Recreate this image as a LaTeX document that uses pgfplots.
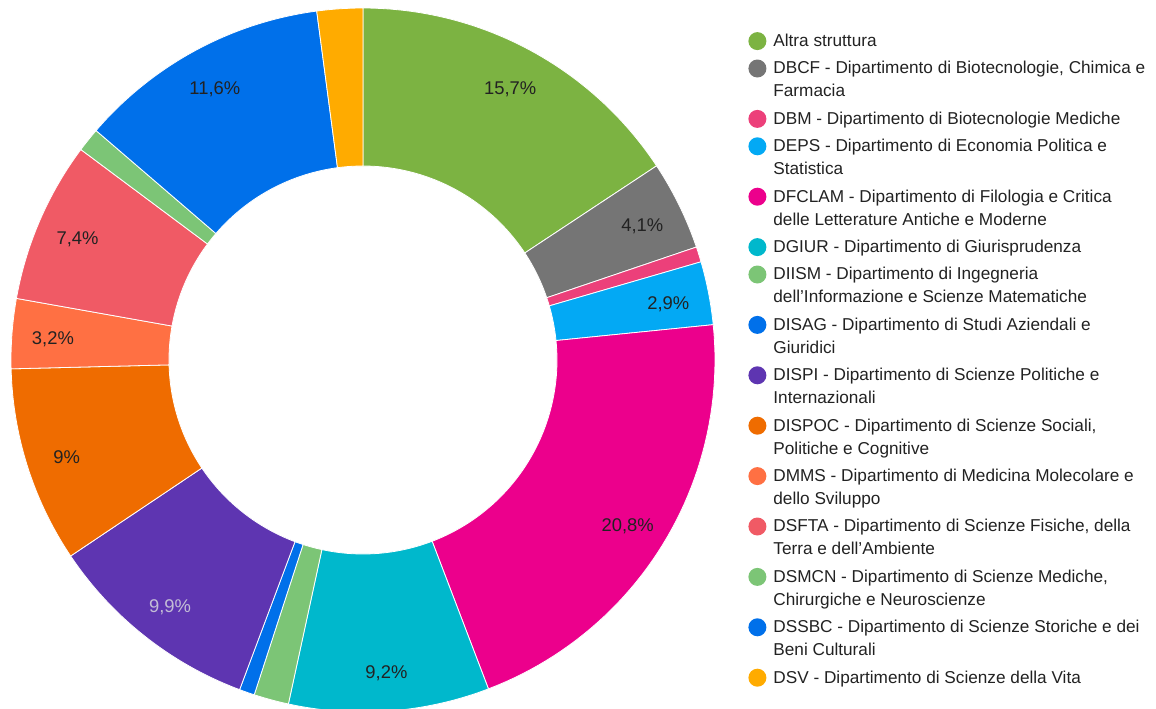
\documentclass[border=0pt]{standalone}
\usepackage{fontspec}
\setmainfont{Liberation Sans}
\usepackage{pgfplots}
\usepackage{pgfplotstable}
\pgfplotsset{compat=1.18}

\definecolor{cAltra}{HTML}{7CB342}
\definecolor{cDBCF}{HTML}{757575}
\definecolor{cDBM}{HTML}{EC407A}
\definecolor{cDEPS}{HTML}{03A9F4}
\definecolor{cDFCLAM}{HTML}{EC008C}
\definecolor{cDGIUR}{HTML}{00B8CC}
\definecolor{cDIISM}{HTML}{7CC576}
\definecolor{cDISAG}{HTML}{0070EA}
\definecolor{cDISPI}{HTML}{5E35B1}
\definecolor{cDISPOC}{HTML}{EF6C00}
\definecolor{cDMMS}{HTML}{FF7043}
\definecolor{cDSFTA}{HTML}{F05A65}
\definecolor{cDSMCN}{HTML}{7CC576}
\definecolor{cDSSBC}{HTML}{0070EA}
\definecolor{cDSV}{HTML}{FFAB00}
\definecolor{labgray}{HTML}{C3BDD6}
\definecolor{txt}{HTML}{222222}

% two-line legend entry, baseline on the first line
\newcommand\two[2]{\vtop{\hbox{\strut #1}\hbox{\strut #2}}}

% share of each structure, in percent, clockwise from the top
\pgfplotstableread{
pct  col      lab
15.7 cAltra   {15,7\%}
4.1  cDBCF    {4,1\%}
0.7  cDBM     {}
2.9  cDEPS    {2,9\%}
20.8 cDFCLAM  {20,8\%}
9.2  cDGIUR   {9,2\%}
1.6  cDIISM   {}
0.7  cDISAG   {}
9.9  cDISPI   {{\color{labgray}9,9\%}}
9.0  cDISPOC  {9\%}
3.2  cDMMS    {3,2\%}
7.4  cDSFTA   {7,4\%}
1.1  cDSMCN   {}
11.6 cDSSBC   {11,6\%}
2.1  cDSV     {}
}\slices
\pgfplotstablecreatecol[create col/expr accum={\pgfmathaccuma + \thisrow{pct}}{0}]{cum}\slices
\pgfplotstablecreatecol[create col/expr={\thisrow{cum}-\thisrow{pct}}]{start}\slices
\pgfplotstablegetrowsof{\slices}
\pgfmathtruncatemacro\lastrow{\pgfplotsretval-1}

\begin{document}
\begin{tikzpicture}
\begin{axis}[
    width=578pt, height=354pt, scale only axis,
    xmin=-363, xmax=793, ymin=-348, ymax=360,
    axis line style={draw=none}, xtick=\empty, ytick=\empty,
    samples at={0,1,...,50,50.001,51,52,...,100},
    legend entries={
      {Altra struttura},
      {\two{DBCF - Dipartimento di Biotecnologie, Chimica e}{Farmacia}},
      {DBM - Dipartimento di Biotecnologie Mediche},
      {\two{DEPS - Dipartimento di Economia Politica e}{Statistica}},
      {\two{DFCLAM - Dipartimento di Filologia e Critica}{delle Letterature Antiche e Moderne}},
      {DGIUR - Dipartimento di Giurisprudenza},
      {\two{DIISM - Dipartimento di Ingegneria}{dell'Informazione e Scienze Matematiche}},
      {\two{DISAG - Dipartimento di Studi Aziendali e}{Giuridici}},
      {\two{DISPI - Dipartimento di Scienze Politiche e}{Internazionali}},
      {\two{DISPOC - Dipartimento di Scienze Sociali,}{Politiche e Cognitive}},
      {\two{DMMS - Dipartimento di Medicina Molecolare e}{dello Sviluppo}},
      {\two{DSFTA - Dipartimento di Scienze Fisiche, della}{Terra e dell'Ambiente}},
      {\two{DSMCN - Dipartimento di Scienze Mediche,}{Chirurgiche e Neuroscienze}},
      {\two{DSSBC - Dipartimento di Scienze Storiche e dei}{Beni Culturali}},
      {DSV - Dipartimento di Scienze della Vita}},
    legend cell align=left,
    legend style={draw=none, fill=none, at={(axis cs:385,330)}, anchor=north west,
      inner sep=0pt, row sep=2.2pt, column sep=3.5pt,
      font=\fontsize{8.6}{11.5}\selectfont, text=txt,
      nodes={inner sep=0pt, text depth={}, execute at begin node=\strut},
      cells={anchor=base west}},
    legend image code/.code={\fill[#1,draw=none] (0pt,2.7pt) circle (4.5pt);},
]
\pgfplotsforeachungrouped \i in {0,...,\lastrow}{%
  \pgfplotstablegetelem{\i}{start}\of\slices \let\sa\pgfplotsretval
  \pgfplotstablegetelem{\i}{cum}\of\slices \let\sb\pgfplotsretval
  \pgfplotstablegetelem{\i}{col}\of\slices \let\scol\pgfplotsretval
  \edef\next{\noexpand\addplot[fill=\scol, draw=white, line width=0.4pt]
    ({ifthenelse(x<=50,352,194)*cos(90-3.6*(\sa+(\sb-\sa)*ifthenelse(x<=50,x,100-x)/50))},
     {ifthenelse(x<=50,352,194)*sin(90-3.6*(\sa+(\sb-\sa)*ifthenelse(x<=50,x,100-x)/50))}) -- cycle;}%
  \next
}
\addplot[forget plot, only marks, mark=none, point meta=explicit symbolic,
    nodes near coords,
    every node near coord/.append style={anchor=center, inner sep=0pt, yshift=-1.5pt,
      font=\fontsize{9.2}{11}\selectfont, text=txt}]
  table[x expr={311*cos(90-3.6*(\thisrow{start}+\thisrow{pct}/2))},
        y expr={311*sin(90-3.6*(\thisrow{start}+\thisrow{pct}/2))},
        meta=lab] {\slices};
\end{axis}
\end{tikzpicture}
\end{document}
